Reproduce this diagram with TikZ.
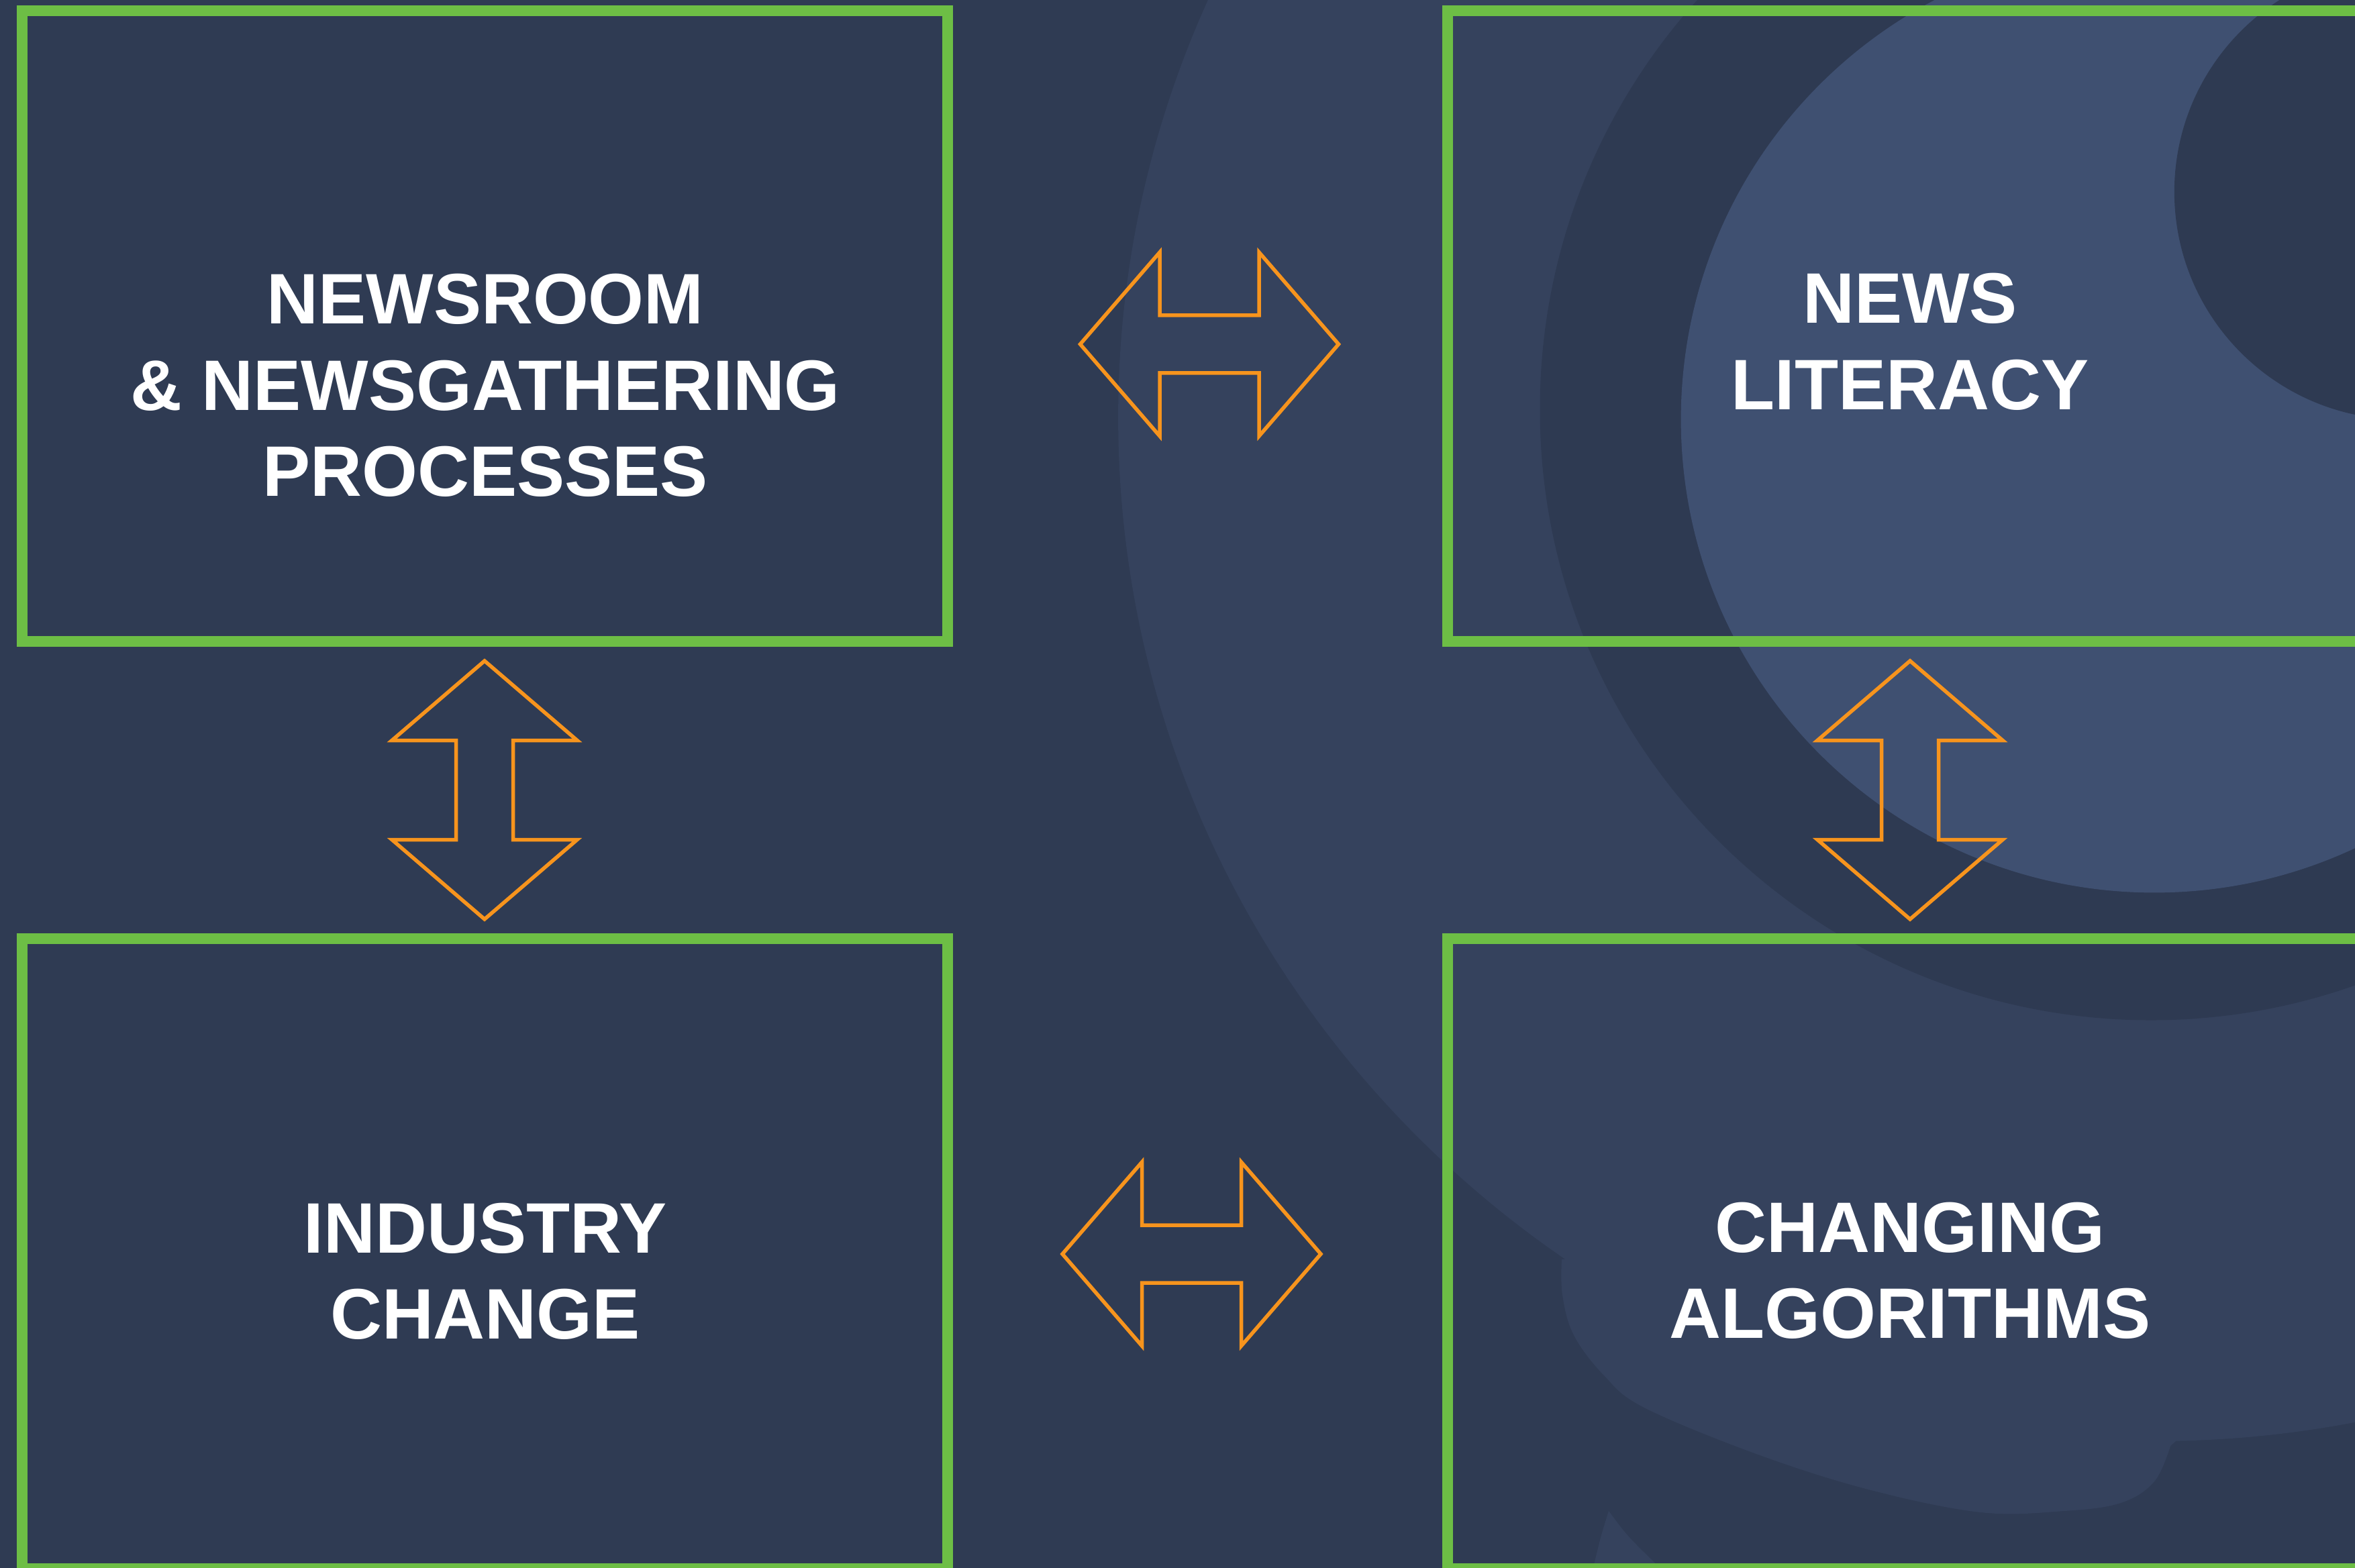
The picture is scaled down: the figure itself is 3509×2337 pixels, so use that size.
\documentclass[tikz,border=0pt]{standalone}
\usepackage{fontspec}
\setmainfont{Liberation Sans}
\definecolor{bgc}{HTML}{2F3B53}
\definecolor{ringl}{HTML}{35425D}
\definecolor{innerl}{HTML}{3F5071}
\definecolor{darkr}{HTML}{2E3A52}
\definecolor{boxgreen}{HTML}{6DBE45}
\definecolor{arrorange}{HTML}{F7941D}
\begin{document}
\begin{tikzpicture}[x=0.01cm,y=-0.01cm,
  box/.style={draw=boxgreen, line width=0.16cm, rectangle, inner sep=0pt},
  lbl/.style={text=white, font=\bfseries\fontsize{30.3}{36.42}\selectfont, anchor=base, inner sep=0pt},
  arrline/.style={draw=arrorange, line width=0.055cm, line join=miter},
  harr/.pic={\draw[arrline] (-192.5,0) -- (-74,-137) -- (-74,-43) -- (74,-43) -- (74,-137) -- (192.5,0) -- (74,137) -- (74,43) -- (-74,43) -- (-74,137) -- cycle;},
  varr/.pic={\draw[arrline] (0,-192.5) -- (-138,-74) -- (-42.5,-74) -- (-42.5,74) -- (-138,74) -- (0,192.5) -- (138,74) -- (42.5,74) -- (42.5,-74) -- (138,-74) -- cycle;}
]
\useasboundingbox (0,0) rectangle (3509,2337);
% background
\begin{scope}
  \clip (0,0) rectangle (3509,2337);
  \fill[bgc] (0,0) rectangle (3509,2337);
  \fill[ringl] (3212,622) ellipse [x radius=15.45cm, y radius=15.25cm];
  \fill[ringl] (3100,1800) -- plot[smooth, tension=0.6] coordinates {(2327,1877) (2328,1930) (2345,1990) (2390,2050) (2450,2098) (2617,2167) (2784,2220) (2951,2254) (3076,2252) (3160,2240) (3210,2208) (3234,2155)} -- (3243,2147) -- cycle;
  \fill[ringl] (2372,2345) .. controls (2385,2290) .. (2397,2252) .. controls (2425,2290) .. (2482,2345) -- cycle;
  \fill[darkr] (3205,610) circle [radius=9.10cm];
  \fill[innerl] (3210,625) circle [radius=7.05cm];
  \fill[darkr] (3579,286) circle [radius=3.39cm];
\end{scope}
% boxes
\node[box, minimum width=13.785cm, minimum height=9.395cm] (tl) at (722.75,486.25) {};
\node[box, minimum width=14.03cm, minimum height=9.395cm] (tr) at (2858.5,486.25) {};
\node[box, minimum width=13.785cm, minimum height=9.39cm] (bl) at (722.75,1868.5) {};
\node[box, minimum width=14.03cm, minimum height=9.39cm] (br) at (2858.5,1868.5) {};
% arrows
\coordinate (atop) at (1802,513);
\coordinate (abot) at (1775.5,1869);
\coordinate (aleft) at (722,1177.5);
\coordinate (aright) at (2846,1177.5);
\pic at (atop) {harr};
\pic at (abot) {harr};
\pic at (aleft) {varr};
\pic at (aright) {varr};
% texts
\node[lbl] (t1) at (723,483) {\begin{tabular}[t]{@{}c@{}}NEWSROOM\\ \& NEWSGATHERING\\ PROCESSES\end{tabular}};
\node[lbl] (t2) at (2846,482) {\begin{tabular}[t]{@{}c@{}}NEWS\\ LITERACY\end{tabular}};
\node[lbl] (t3) at (723,1867) {\begin{tabular}[t]{@{}c@{}}INDUSTRY\\ CHANGE\end{tabular}};
\node[lbl] (t4) at (2846,1866) {\begin{tabular}[t]{@{}c@{}}CHANGING\\ ALGORITHMS\end{tabular}};
\end{tikzpicture}
\end{document}
